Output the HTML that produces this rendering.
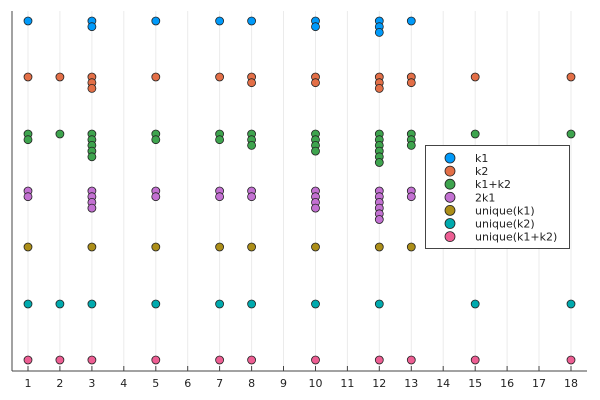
<!DOCTYPE html>
<html><head><meta charset="utf-8"><style>body{margin:0;background:#fff}svg{display:block}text{font-family:"DejaVu Sans","Liberation Sans",sans-serif}</style></head>
<body>
<svg id="s" width="600" height="400" xmlns="http://www.w3.org/2000/svg"></svg>
<script>
const s=document.getElementById('s');let h='';
const X=v=>28+(v-1)*31.94;
for(let i=1;i<=18;i++){const x=X(i).toFixed(1);
h+=`<line x1="${x}" y1="11" x2="${x}" y2="371" stroke="#ebebeb" stroke-width="1"/>`;
h+=`<line x1="${x}" y1="371" x2="${x}" y2="366" stroke="#444"/>`;
h+=`<text x="${x}" y="387" font-size="11" text-anchor="middle" fill="#222">${i}</text>`;}
h+=`<line x1="12" y1="11" x2="12" y2="371" stroke="#444"/><line x1="12" y1="371" x2="587" y2="371" stroke="#444"/>`;
const cols=['#009AFA','#E36F47','#3EA44E','#C371D2','#AC8E18','#00AAAE','#ED5E93'];
const rows=[21,77,134,191,247,304,360];
const data=[
{1:1,3:2,5:1,7:1,8:1,10:2,12:3,13:1},
{1:1,2:1,3:3,5:1,7:1,8:2,10:2,12:3,13:2,15:1,18:1},
{1:2,2:1,3:5,5:2,7:2,8:3,10:4,12:6,13:3,15:1,18:1},
{1:2,3:4,5:2,7:2,8:2,10:4,12:6,13:2},
{1:1,3:1,5:1,7:1,8:1,10:1,12:1,13:1},
{1:1,2:1,3:1,5:1,7:1,8:1,10:1,12:1,15:1,18:1},
{1:1,2:1,3:1,5:1,7:1,8:1,10:1,12:1,13:1,15:1,18:1}];
data.forEach((d,r)=>{for(const k in d){for(let j=0;j<d[k];j++){
h+=`<circle cx="${X(+k).toFixed(1)}" cy="${(rows[r]+j*5.7).toFixed(1)}" r="4" fill="${cols[r]}" stroke="#222" stroke-width="0.8"/>`;}}});
h+=`<rect x="425.5" y="145.5" width="144" height="103" fill="#fff" stroke="#444"/>`;
const labs=['k1','k2','k1+k2','2k1','unique(k1)','unique(k2)','unique(k1+k2)'];
labs.forEach((l,i)=>{const y=158+i*13.1;
h+=`<circle cx="450" cy="${y}" r="5" fill="${cols[i]}" stroke="#222" stroke-width="0.8"/>`;
h+=`<text x="475" y="${y+4}" font-size="11" fill="#222">${l}</text>`;});
s.innerHTML=h;
</script>
</body></html>
